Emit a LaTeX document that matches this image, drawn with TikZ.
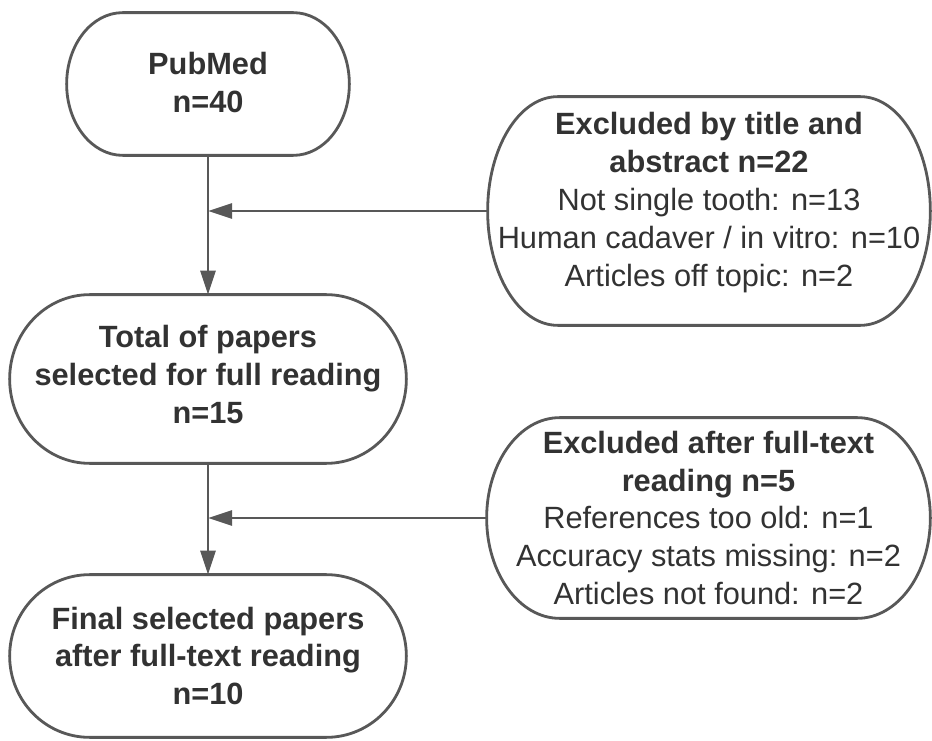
\documentclass[tikz,border=0pt]{standalone}
\usepackage{fontspec}
\setmainfont{Liberation Sans}
\usepackage{tikz}
\usetikzlibrary{arrows.meta,positioning,calc}
\definecolor{flowline}{RGB}{88,88,88}
\definecolor{flowtext}{RGB}{50,50,50}

% outline with elliptic ends round a named node: #1 node, #2 end radius
\newcommand{\pillbox}[2]{%
  \draw[boxline] let \p1=(#1.north west), \p2=(#1.south east),
      \n1={0.5*(\y1-\y2)} in
    (\x1+#2,\y1) -- (\x2-#2,\y1)
    arc[start angle=90,end angle=-90,x radius=#2,y radius=\n1]
    -- (\x1+#2,\y2)
    arc[start angle=270,end angle=90,x radius=#2,y radius=\n1] -- cycle;}

\begin{document}
\begin{tikzpicture}[>={Triangle[length=0.48cm,width=0.3cm]},
  boxline/.style={draw=flowline,line width=1.6pt},
  pill/.style={inner sep=0pt},
  boxtext/.style={text=flowtext,align=center,inner sep=0pt,
    font=\fontsize{17.5}{21.6}\selectfont},
  flow/.style={->,draw=flowline,line width=1.6pt}]
  \useasboundingbox (0,0) rectangle (18.64,14.8);
  % boxes
  \node[pill,minimum width=5.64cm,minimum height=2.84cm] (pubmed) at (4.16,13.12) {};
  \node[pill,minimum width=7.92cm,minimum height=3.36cm] (total) at (4.16,7.22) {};
  \node[pill,minimum width=7.92cm,minimum height=3.24cm] (final) at (4.16,1.68) {};
  \node[pill,minimum width=8.84cm,minimum height=4.56cm] (excl1) at (14.18,10.58) {};
  \node[pill,minimum width=8.86cm,minimum height=4.0cm] (excl2) at (14.17,4.44) {};
  \pillbox{pubmed}{1.12cm}
  \pillbox{total}{1.6cm}
  \pillbox{final}{1.6cm}
  \pillbox{excl1}{1.4cm}
  \pillbox{excl2}{1.46cm}
  % texts
  \node[boxtext] (pubmedtext) at ([yshift=0.03cm]pubmed.center)
    {\textbf{PubMed}\\\textbf{n=40}};
  \node[boxtext] (totaltext) at ([yshift=0.09cm]total.center)
    {\textbf{Total of papers}\\\textbf{selected for full reading}\\\textbf{n=15}};
  \node[boxtext] (finaltext) at (final.center)
    {\textbf{Final selected papers}\\\textbf{after full-text reading}\\\textbf{n=10}};
  \node[boxtext] (excl1text) at ([yshift=0.17cm]excl1.center)
    {\textbf{Excluded by title and}\\\textbf{abstract n=22}\\Not single tooth: n=13\\
     Human cadaver / in vitro: n=10\\Articles off topic: n=2};
  \node[boxtext] (excl2text) at (excl2.center)
    {\textbf{Excluded after full-text}\\\textbf{reading n=5}\\References too old: n=1\\
     Accuracy stats missing: n=2\\Articles not found: n=2};
  % connectors
  \draw[flow] (pubmed) -- (total);
  \draw[flow] (total) -- (final);
  \draw[flow] (excl1.west) -- (excl1.west -| pubmed.south);
  \draw[flow] (excl2.west) -- (excl2.west -| total.south);
\end{tikzpicture}
\end{document}
